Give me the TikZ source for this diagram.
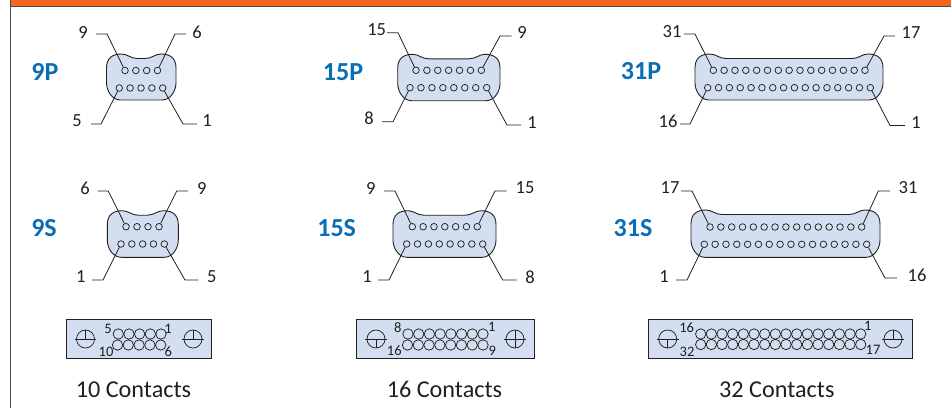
\documentclass[tikz,border=0pt]{standalone}
\usepackage{fontspec}
\setmainfont{Carlito}
\usepackage{tikz}
\definecolor{bandorange}{HTML}{F26522}
\definecolor{shellblue}{HTML}{D3DFF0}
\definecolor{typeblue}{HTML}{0A6EB4}
\definecolor{inkgrey}{HTML}{231F20}
\tikzset{
  shell/.style={draw=inkgrey,fill=shellblue,line width=0.9pt},
  hole/.style={circle,draw=inkgrey,line width=0.75pt,inner sep=0pt,minimum size=6.6pt},
  bighole/.style={circle,draw=inkgrey,line width=0.75pt,inner sep=0pt,minimum size=10.4pt},
  screw/.style={circle,draw=inkgrey,line width=0.75pt,inner sep=0pt,minimum size=18pt},
  leader/.style={draw=inkgrey,line width=0.8pt},
  pinno/.style={text=inkgrey,inner sep=0pt,font=\fontsize{18.5}{20}\selectfont},
  tinyno/.style={text=inkgrey,inner sep=0pt,font=\fontsize{14.5}{16}\selectfont},
  typeno/.style={text=typeblue,inner sep=0pt,font=\fontsize{26}{28}\selectfont\bfseries},
  count/.style={text=inkgrey,inner sep=0pt,font=\fontsize{24.2}{26}\selectfont}
}
% left, right, top, bottom
\newcommand{\shellbody}[4]{
  \draw[shell] (#1,#3+14) .. controls (#1,#3+4) and (#1+6,#3) .. (#1+15,#3)
    .. controls (#1+21,#3) and (#1+24,#3+4.5) .. (#1+31,#3+4.5) -- (#2-31,#3+4.5)
    .. controls (#2-24,#3+4.5) and (#2-21,#3) .. (#2-15,#3)
    .. controls (#2-6,#3) and (#2,#3+4) .. (#2,#3+14) -- (#2,#4-17)
    .. controls (#2,#4-10) and (#2-5,#4) .. (#2-14,#4) -- (#1+14,#4)
    .. controls (#1+5,#4) and (#1,#4-10) .. (#1,#4-17) -- cycle;
}
% name, style, first x, last x, y, count
\newcommand{\holerow}[6]{
  \foreach \i in {1,...,#6} {
    \node[#2] (#1\i) at ({#3+(\i-1)*(#4-#3)/(#6-1)},#5) {};
  }
}
% hole, text, text x, text y, free x, elbow x, line y
\newcommand{\leadout}[7]{
  \node[pinno] (#1-no) at (#3,#4) {#2};
  \coordinate (#1-free) at (#5,#7);
  \coordinate (#1-elbow) at (#6,#7);
  \draw[leader] (#1-free) -- (#1-elbow) -- (#1);
}
% name, x, y, from anchor, to anchor
\newcommand{\screwhead}[5]{
  \node[screw] (#1) at (#2,#3) {};
  \draw[leader] ([xshift=-1.5pt]#1.west) -- ([xshift=1.5pt]#1.east);
  \draw[leader] (#1.#4) -- (#1.#5);
}
\begin{document}
\begin{tikzpicture}[x=1pt,y=-1pt]
  \useasboundingbox (0,0) rectangle (951,408);
  % frame
  \fill[bandorange] (10,0) rectangle (951,6);
  \draw[draw=inkgrey!80,line width=0.6pt] (10,6) -- (951,6);
  \draw[draw=inkgrey!80,line width=1pt] (10.5,0) -- (10.5,408);

  % 9P
  \node[typeno] (t9P) at (45,72) {9P};
  \shellbody{106.5}{176}{54}{100}
  \holerow{a}{hole}{125}{157.5}{70.5}{4}
  \holerow{b}{hole}{119.3}{162.7}{88}{5}
  \leadout{a1}{9}{83}{32}{96}{107}{34}
  \leadout{a4}{6}{197}{32}{186}{175}{34}
  \leadout{b1}{5}{77}{121}{91}{101}{124}
  \leadout{b5}{1}{207}{121}{197}{183}{124}

  % 15P
  \node[typeno] (t15P) at (343,72) {15P};
  \shellbody{397.7}{500}{54.3}{100.7}
  \holerow{c}{hole}{416}{481.3}{70.3}{7}
  \holerow{d}{hole}{410}{486.7}{87.7}{8}
  \leadout{c1}{15}{376.7}{30}{387}{398}{32.7}
  \leadout{c7}{9}{522}{32.7}{511.7}{500}{36}
  \leadout{d1}{8}{369}{118}{382}{393}{121.7}
  \leadout{d8}{1}{532}{122.7}{521}{507}{125}

  % 31P
  \node[typeno] (t31P) at (641,71) {31P};
  \shellbody{695}{883}{54}{100}
  \holerow{e}{hole}{713.3}{865}{70.3}{15}
  \holerow{f}{hole}{707.7}{870.3}{87.7}{16}
  \leadout{e1}{31}{672}{32}{684}{695}{34}
  \leadout{e15}{17}{911}{33}{895}{884}{36}
  \leadout{f1}{16}{668}{121}{680}{690}{124}
  \leadout{f16}{1}{916}{123}{905}{890}{125.5}

  % 9S
  \node[typeno] (t9S) at (44,228) {9S};
  \shellbody{107.3}{178.3}{210.7}{257.3}
  \holerow{g}{hole}{126}{159}{226.7}{4}
  \holerow{h}{hole}{121}{164.3}{244}{5}
  \leadout{g1}{6}{85}{188}{97.7}{108.3}{191}
  \leadout{g4}{9}{201.7}{188}{188}{176.7}{191}
  \leadout{h1}{1}{80.7}{277}{92}{103}{280}
  \leadout{h5}{5}{211.7}{277}{198}{185}{280}

  % 15S
  \node[typeno] (t15S) at (336.7,228) {15S};
  \shellbody{393}{496}{210.7}{257.3}
  \holerow{i}{hole}{412.3}{477.3}{226.7}{7}
  \holerow{j}{hole}{406.7}{482.7}{244}{8}
  \leadout{i1}{9}{370.7}{188}{384}{395}{191}
  \leadout{i7}{15}{525}{188}{506.7}{495}{191}
  \leadout{j1}{1}{367}{277}{378}{389}{280}
  \leadout{j8}{8}{530}{277}{516.7}{502.7}{280}

  % 31S
  \node[typeno] (t31S) at (633,228) {31S};
  \shellbody{691}{880}{210}{257.3}
  \holerow{k}{hole}{710}{861.7}{227}{15}
  \holerow{l}{hole}{704.3}{866.7}{244.3}{16}
  \leadout{k1}{17}{670}{188}{681}{692}{191}
  \leadout{k15}{31}{908}{188}{890}{878.3}{191}
  \leadout{l1}{1}{664}{277}{676}{687}{280}
  \leadout{l16}{16}{917}{275}{897}{885}{278}

  % 10 contacts
  \draw[shell] (66.5,319.5) rectangle (211,358.5);
  \screwhead{s1}{85.5}{339}{north}{center}
  \screwhead{s2}{193}{339}{north}{center}
  \holerow{m}{bighole}{118.3}{161}{334}{5}
  \holerow{n}{bighole}{117.5}{160.7}{345}{5}
  \node[tinyno] (m5) at (108,328.7) {5};
  \node[tinyno] (m1) at (168,328.7) {1};
  \node[tinyno] (n10) at (106,351.7) {10};
  \node[tinyno] (n6) at (168.3,351.7) {6};
  \node[count] (c10) at (133.5,389.5) {10 Contacts};

  % 16 contacts
  \draw[shell] (356.7,319.5) rectangle (534,358.5);
  \screwhead{s3}{376}{339}{center}{south}
  \screwhead{s4}{515}{339}{north}{south}
  \holerow{o}{bighole}{408}{483}{334}{8}
  \holerow{q}{bighole}{407.5}{483}{345}{8}
  \node[tinyno] (o8) at (397.7,328) {8};
  \node[tinyno] (o1) at (491.7,327) {1};
  \node[tinyno] (q16) at (394.3,351) {16};
  \node[tinyno] (q9) at (492.3,351) {9};
  \node[count] (c16) at (444.5,389.5) {16 Contacts};

  % 32 contacts
  \draw[shell] (648.7,319.5) rectangle (912,358.5);
  \screwhead{s5}{667.7}{339}{center}{south}
  \screwhead{s6}{893}{339}{north}{center}
  \holerow{r}{bighole}{700.7}{860.7}{334}{16}
  \holerow{u}{bighole}{700.7}{860.7}{344.5}{16}
  \node[tinyno] (r16) at (686.7,328) {16};
  \node[tinyno] (r1) at (867.7,326) {1};
  \node[tinyno] (u32) at (687,352) {32};
  \node[tinyno] (u17) at (873,350) {17};
  \node[count] (c32) at (776.8,389.5) {32 Contacts};
\end{tikzpicture}
\end{document}
